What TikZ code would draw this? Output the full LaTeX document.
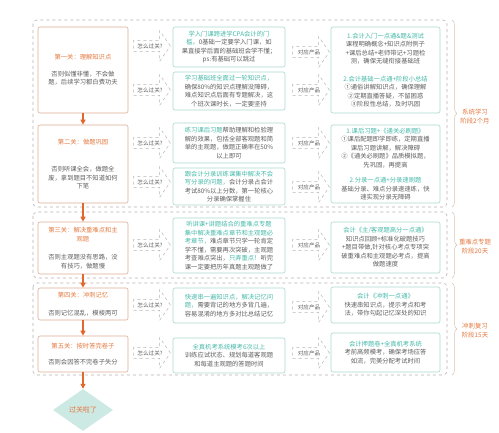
\documentclass[tikz,border=0pt]{standalone}
\usepackage{fontspec}
\setmainfont{Noto Sans CJK SC}
\usetikzlibrary{shapes.geometric,shapes.arrows,decorations.pathreplacing,arrows.meta}

\definecolor{gateline}{HTML}{D9AE92}
\definecolor{gatetext}{HTML}{E3783F}
\definecolor{flowarrow}{HTML}{E0672E}
\definecolor{tealline}{HTML}{A6D6CF}
\definecolor{tealtext}{HTML}{45B8A8}
\definecolor{dashgray}{HTML}{B8B3AE}
\definecolor{bracetan}{HTML}{D8C2B0}
\definecolor{bodygray}{HTML}{5E5E5E}
\definecolor{passfill}{HTML}{CDE9E4}

\newcommand{\tealtxt}[1]{\textcolor{tealtext}{#1}}
\newcommand{\gatetitle}[1]{\textcolor{gatetext}{#1}}

\begin{document}
\begin{tikzpicture}[x=1pt,y=-1pt,
        every node/.style={font=\fontsize{6.3}{8.5}\selectfont, text=bodygray},
        gatebox/.style={draw=gateline, line width=0.6pt, rounded corners=2pt,
            minimum width=90pt, align=center, inner sep=2pt},
        waybox/.style={draw=tealline, line width=0.6pt, rounded corners=2pt,
            minimum width=112pt, align=center, inner sep=2pt},
        prodbox/.style={draw=tealline, line width=0.6pt, rounded corners=2pt,
            minimum width=109pt, align=center, inner sep=2pt},
        askarrow/.style={single arrow, draw=dashgray, dashed, line width=0.5pt,
            single arrow head extend=10pt, single arrow tip angle=110,
            minimum height=37pt, inner xsep=1pt, inner ysep=2.5pt,
            font=\fontsize{5.6}{7}\selectfont},
        stagebox/.style={draw=dashgray, dashed, line width=0.6pt, rounded corners=4pt},
        stagebrace/.style={draw=bracetan, line width=0.5pt,
            decorate, decoration={brace, amplitude=5pt}},
        stagelabel/.style={text=gatetext, align=center, font=\fontsize{6.4}{9}\selectfont},
        flow/.style={draw=flowarrow, line width=1.2pt, -{Triangle[length=5pt,width=5pt]}}
    ]
    \useasboundingbox (0,0) rectangle (499,433);

    % stage groups
    \draw[stagebox] (33,20) rectangle (447,207);
    \draw[stagebox] (33,212) rectangle (447,278);
    \draw[stagebox] (33,283) rectangle (447,375);
    \coordinate (s1a) at (452,20);  \coordinate (s1b) at (452,207);
    \coordinate (s2a) at (452,212); \coordinate (s2b) at (452,278);
    \coordinate (s3a) at (452,283); \coordinate (s3b) at (452,375);
    \draw[stagebrace] (s1a) -- (s1b);
    \draw[stagebrace] (s2a) -- (s2b);
    \draw[stagebrace] (s3a) -- (s3b);
    \node[stagelabel] (stage1) at (475,117) {系统学习\\阶段2个月};
    \node[stagelabel] (stage2) at (475,247) {重难点专题\\阶段20天};
    \node[stagelabel] (stage3) at (475,331) {冲刺复习\\阶段15天};

    % gates
    \node[gatebox, minimum height=86pt] (gate1) at (83,70)
        {\gatetitle{第一关：理解知识点}\\[8pt]否则似懂非懂，不会做\\题，后续学习都白费功夫};
    \node[gatebox, minimum height=78pt] (gate2) at (83,164)
        {\gatetitle{第二关：做题巩固}\\[19pt]否则听课全会，做题全\\废，拿到题目不知道如何\\下笔};
    \node[gatebox, minimum height=52pt] (gate3) at (83,248)
        {\gatetitle{第三关：解决重难点和主}\\\gatetitle{观题}\\[10pt]否则主观题没有思路，没\\有技巧，做题慢};
    \node[gatebox, minimum height=32pt] (gate4) at (83,304)
        {\gatetitle{第四关：冲刺记忆}\\[9pt]否则记忆混乱，模棱两可};
    \node[gatebox, minimum height=36pt] (gate5) at (83,354)
        {\gatetitle{第五关：按时答完卷子}\\[8pt]否则会因答不完卷子失分};
    \node[diamond, fill=passfill, minimum width=60pt, minimum height=42pt,
        inner sep=0pt, text=gatetext, font=\fontsize{7}{8}\selectfont] (pass) at (83,410) {过关啦了};

    \draw[flow] (gate1) -- (gate2);
    \draw[flow] (gate2) -- (gate3);
    \draw[flow] (gate3) -- (gate4);
    \draw[flow] (gate4) -- (gate5);
    \draw[flow] (gate5) -- (pass);

    % how to pass
    \foreach \y [count=\i] in {46,90,143,182,245,305,353}
        \node[askarrow] (ask\i) at (150,\y) {怎么过关?};

    \node[waybox, minimum height=40pt] (way1) at (229,47)
        {\tealtxt{学入门课跨进学CPA会计的门}\\\tealtxt{槛。}0基础一定要学入门课，如\\果直接学后面的基础班会学不懂；\\ps:有基础可以跳过};
    \node[waybox, minimum height=38pt] (way2) at (229,91)
        {\tealtxt{学习基础班全面过一轮知识点，}\\确保80\%的知识点理解没障碍，\\难点知识点后面有专题解决，这\\个班次课时长，一定要坚持};
    \node[waybox, minimum height=40pt] (way3) at (229,143)
        {\tealtxt{练习课后习题}帮助理解和检验理\\解的效果，包括全部客观题和简\\单的主观题，做题正确率在50\%\\以上即可};
    \node[waybox, minimum height=37pt] (way4) at (229,186.5)
        {\tealtxt{跟会计分录训练课集中解决不会}\\\tealtxt{写分录的问题，}会计分录占会计\\考试80\%以上分数，第一轮核心\\分录确保掌握住};
    \node[waybox, minimum height=55pt] (way5) at (229,245.5)
        {\tealtxt{听讲课+讲题结合的重难点专题}\\\tealtxt{集中解决重难点章节和主观题必}\\\tealtxt{考章节，}难点章节只学一轮肯定\\学不懂，需要再次突破，主观题\\考查难点突出，\tealtxt{只弄重点！}听完\\课一定要把历年真题主观题做了};
    \node[waybox, minimum height=35pt] (way6) at (229,305.5)
        {\tealtxt{快速串一遍知识点，解决记忆问}\\\tealtxt{题，}需要背记的地方多背几遍，\\容易混淆的地方多对比总结记忆};
    \node[waybox, minimum height=35pt] (way7) at (229,355.5)
        {\tealtxt{全真机考系统模考6次以上}\\训练应试状态、规划每道客观题\\和每道主观题的答题时间};

    % matching products
    \foreach \y [count=\i] in {52,90,143,187,245,307,353}
        \node[askarrow] (prod\i) at (309,\y) {对应产品};

    \node[prodbox, minimum height=86pt] (goods1) at (385.5,70)
        {\tealtxt{1.会计入门一点通\&题\&测试}\\课程明确概念+知识点附例子\\+课后总结+老师带记+习题检\\测，确保无缝衔接基础班\\[9pt]
         \tealtxt{2.会计基础一点通+阶段小总结}\\①通俗讲解知识点，确保理解\\②定期直播答疑，不留困惑\\③阶段性总结，及时巩固};
    \node[prodbox, minimum height=78pt] (goods2) at (385.5,164)
        {\tealtxt{1.课后习题+《通关必刷题》}\\①课后配题即学即练，定期直播\\课后习题讲解，解决障碍\\②《通关必刷题》品质模拟题，\\先巩固，再提高\\[7pt]
         \tealtxt{2.分录一点通+分录速刷题}\\基础分录、难点分录速速练，快\\速实现分录无障碍};
    \node[prodbox, minimum height=51pt] (goods3) at (385.5,247.5)
        {\tealtxt{会计《主/客观题高分一点通》}\\知识点回顾+标准化破题技巧\\+题目带做,针对核心考点专项突\\破重难点和主观题必考点，提高\\做题速度};
    \node[prodbox, minimum height=36pt] (goods4) at (385.5,305)
        {\tealtxt{会计《冲刺一点通》}\\快速串知识点，提示考点和考\\法，带你勾起记忆深处的知识};
    \node[prodbox, minimum height=39pt] (goods5) at (385.5,352.5)
        {\tealtxt{会计押题卷+全真机考系统}\\考前高频模考，确保考场应答\\如流，完美分配考试时间};
\end{tikzpicture}
\end{document}
